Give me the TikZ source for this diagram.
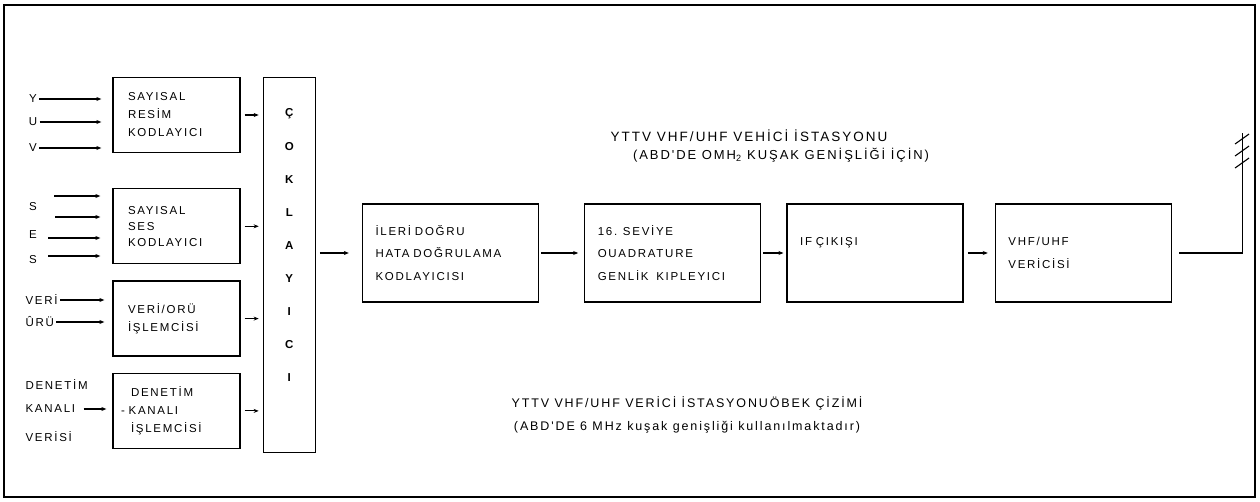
\documentclass[tikz,border=0pt]{standalone}
\usepackage{fontspec}
\setmainfont{Liberation Sans}
\newfontfamily\diagfont[LetterSpace=15]{Liberation Sans}
\usetikzlibrary{arrows.meta, positioning}

\begin{document}
\begin{tikzpicture}[
	x=1pt, y=-1pt,
	node distance=16pt,
	>={Stealth[length=5pt,width=4pt]},
	line width=1.1pt,
	txt/.style={font=\diagfont\fontsize{11.5}{16}\selectfont, inner sep=0pt},
	captxt/.style={font=\diagfont\fontsize{12.5}{16}\selectfont, inner sep=0pt},
	box/.style={rectangle, draw, line width=1.3pt, minimum width=127pt, minimum height=75pt, align=left, text width=97pt, inner xsep=15pt, font=\diagfont\fontsize{11.5}{18}\selectfont},
	bigbox/.style={box, minimum width=176pt, minimum height=98pt, text width=150pt, inner xsep=12pt, font=\diagfont\fontsize{11.5}{22.5}\selectfont},
	mux/.style={rectangle, draw, line width=1.3pt, minimum width=52pt, minimum height=375pt},
	letter/.style={font=\bfseries\fontsize{11.5}{11.5}\selectfont, inner sep=0pt}
	]
	\useasboundingbox (0,0) rectangle (1260,502);
	\draw[line width=1.6pt] (4,5) rectangle (1255,497);
	% encoders and processors
	\node[box] (resim) at (176.5,115) {SAYISAL\\RESİM\\KODLAYICI};
	\node[box, below=35pt of resim, font=\diagfont\fontsize{11.5}{16}\selectfont] (ses) {SAYISAL\\SES\\KODLAYICI};
	\node[box, below=of ses] (veri) {VERİ/ORÜ\\İŞLEMCİSİ};
	\node[box, below=of veri, inner xsep=18pt, text width=91pt] (denetim) {DENETİM\\\hspace*{-10pt}- KANALI\\İŞLEMCİSİ};
	\node[mux, anchor=north west] (mux) at ([xshift=22pt]resim.north east) {};
	\foreach \c [count=\i] in {Ç,O,K,L,A,Y,I,C,I}
		\node[letter] (m\i) at ([yshift={-(4+33*\i)*1pt}]mux.north) {\c};
	% main chain
	\node[bigbox] (fec) at (450.5,253) {İLERİ DOĞRU\\HATA DOĞRULAMA\\KODLAYICISI};
	\node[bigbox, right=45pt of fec] (qam) {16. SEVİYE\\OUADRATURE\\GENLİK~~KIPLEYICI};
	\node[bigbox, right=25pt of qam] (ifout) {IF ÇIKIŞI\\ \mbox{}};
	\node[bigbox, right=31pt of ifout] (tx) {VHF/UHF\\VERİCİSİ};
	% inputs
	\node[txt] (inY) at (33,99) {Y};
	\node[txt] (inU) at (33,122) {U};
	\node[txt] (inV) at (33,148) {V};
	\node[txt] (inS1) at (33,207) {S};
	\node[txt] (inE) at (33,235) {E};
	\node[txt] (inS2) at (33,260) {S};
	\node[txt, anchor=west] (inVeri) at (25,300) {VERİ};
	\node[txt, anchor=west] (inUru) at (25,322) {ÛRÜ};
	\node[txt, anchor=west] (inDenetim) at (25,385) {DENETİM};
	\node[txt, anchor=west] (inKanal) at (25,409) {KANALI};
	\node[txt, anchor=west] (inVerisi) at (25,437) {VERİSİ};
	\coordinate (a1) at (54,196);
	\coordinate (a2) at (55,217);
	\coordinate (a3) at (48,238);
	\coordinate (a4) at (48,256);
	% titles
	\node[captxt, font=\diagfont\fontsize{13.5}{16}\selectfont] (title) at (749,136) {YTTV VHF/UHF VEHİCİ İSTASYONU};
	\node[captxt, font=\diagfont\fontsize{13}{16}\selectfont] (subtitle) at (781,155) {(ABD'DE OMH\textsubscript{2} KUŞAK GENİŞLİĞİ İÇİN)};
	\node[captxt] (caption) at (687,403) {YTTV VHF/UHF VERİCİ İSTASYONUÖBEK ÇİZİMİ};
	\node[captxt] (note) at (687,427) {(ABD'DE 6 MHz kuşak genişliği kullanılmaktadır)};
	% antenna
	\coordinate (base) at ([xshift=70pt]tx.east);
	\coordinate (top) at ([yshift=120pt]base);
	\draw[shorten <=7pt] (tx.east) -- (base) -- (top);
	\foreach \d in {6,18,30}
		\draw ([shift={(-7,\d+5)}]top) -- ([shift={(7,\d-5)}]top);
	% connections
	\foreach \n in {inY,inU,inV}
		\draw[->, shorten <=2pt, shorten >=11pt] (\n.east) -- (\n.east -| resim.west);
	\foreach \a in {a1,a2,a3,a4}
		\draw[->, shorten >=12pt] (\a) -- (\a -| ses.west);
	\foreach \n in {inVeri,inUru}
		\draw[->, shorten <=2pt, shorten >=8pt] (\n.east) -- (\n.east -| veri.west);
	\draw[->, shorten <=8pt, shorten >=6pt] (inKanal.east) -- (inKanal.east -| denetim.west);
	\foreach \b in {resim,ses,veri,denetim}
		\draw[->, shorten <=4pt, shorten >=4pt] (\b.east) -- (\b.east -| mux.west);
	\draw[->, shorten <=4pt, shorten >=13pt] (mux.east |- fec.west) -- (fec.west);
	\draw[->, shorten <=2pt, shorten >=6pt] (fec) -- (qam);
	\draw[->, shorten <=2pt, shorten >=3pt] (qam) -- (ifout);
	\draw[->, shorten <=4pt, shorten >=7pt] (ifout) -- (tx);
\end{tikzpicture}
\end{document}
